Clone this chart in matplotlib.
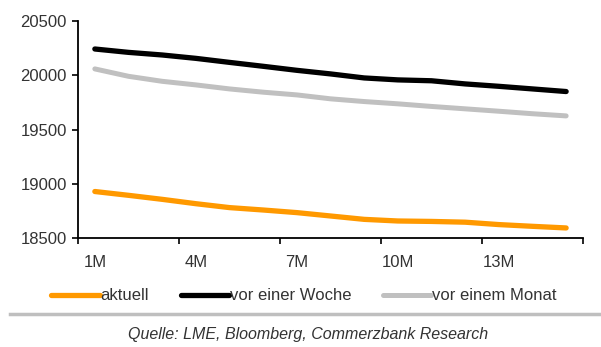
import matplotlib.pyplot as plt
from matplotlib.lines import Line2D

plt.rcParams['font.family'] = ['Liberation Sans', 'DejaVu Sans']

# Forward curve, month 1 to 15
months = [f"{i}M" for i in range(1, 16)]
aktuell = [18930, 18895, 18858, 18818, 18782, 18760, 18736, 18705,
           18674, 18659, 18655, 18648, 18626, 18610, 18595]
vor_woche = [20240, 20209, 20185, 20154, 20117, 20081, 20044, 20011,
             19974, 19956, 19948, 19919, 19897, 19873, 19849]
vor_monat = [20057, 19989, 19943, 19910, 19873, 19843, 19818, 19782,
             19757, 19736, 19712, 19690, 19668, 19645, 19625]
yticks = [18500, 19000, 19500, 20000, 20500]

fig = plt.figure(figsize=(6.01, 3.47), dpi=100, facecolor='white')
ax = fig.add_axes([0.1298, 0.3133, 0.8402, 0.627])

ax.plot(months, aktuell, color='#FF9900', lw=3.8, solid_capstyle='round', label='aktuell')
ax.plot(months, vor_woche, color='#000000', lw=3.8, solid_capstyle='round', label='vor einer Woche')
ax.plot(months, vor_monat, color='#C0C0C0', lw=3.6, solid_capstyle='round', label='vor einem Monat')

ax.set_ylim(18500, 20500)
ax.set_yticks(yticks)
ax.set_xlim(-0.5, len(months) - 0.5)

# tick marks sit between category groups, labels on every third month
ax.set_xticks([i - 0.5 for i in range(0, len(months) + 1, 3)])
ax.set_xticklabels([])
ax.set_xticks(range(0, len(months), 3), minor=True)
ax.set_xticklabels(months[::3], minor=True)
ax.tick_params(axis='x', which='major', direction='out', length=4, width=1.2, color='black')
ax.tick_params(axis='x', which='minor', length=0, pad=12, labelsize=12, labelcolor='#333333')
ax.tick_params(axis='y', direction='out', length=4, width=1.2, color='black',
               labelsize=12, labelcolor='#333333', pad=4)

for side in ['top', 'right']:
    ax.spines[side].set_visible(False)
for side in ['left', 'bottom']:
    ax.spines[side].set_linewidth(1.3)

fig.legend(loc='center', bbox_to_anchor=(304 / 601, 1 - 296 / 347), ncol=3,
           frameon=False, fontsize=12, handlelength=2.9, handletextpad=0.05,
           columnspacing=1.9, labelcolor='#333333')

fig.add_artist(Line2D([10 / 601, 1.0], [1 - 314 / 347] * 2, color='#BFBFBF', lw=2.5))
fig.text(308 / 601, 1 - 335 / 347, 'Quelle: LME, Bloomberg, Commerzbank Research',
         ha='center', va='center', fontsize=11.5, style='italic', color='#333333')

fig.savefig('out.png', dpi=100, facecolor='white')
